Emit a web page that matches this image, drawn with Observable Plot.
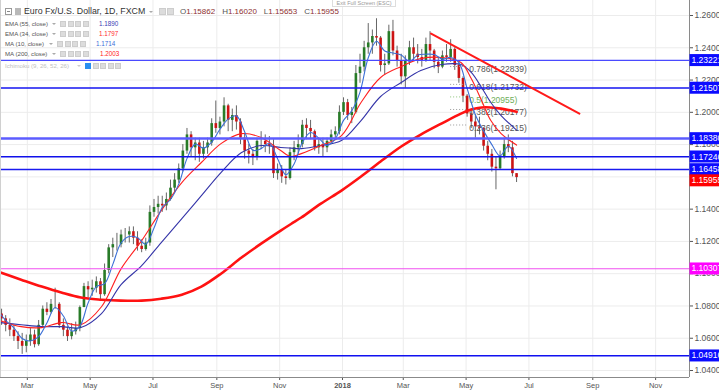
<!DOCTYPE html>
<html>
<head>
<meta charset="utf-8">
<script src="https://cdn.jsdelivr.net/npm/d3@7"></script>
<script src="https://cdn.jsdelivr.net/npm/@observablehq/plot@0.6"></script>
<style>
html,body{margin:0;padding:0;background:#fff;overflow:hidden;}
#wrap{position:relative;width:719px;height:392px;overflow:hidden;}
#legend{position:absolute;left:0;top:0;width:719px;height:80px;font-family:"Liberation Sans",Arial,sans-serif;pointer-events:none;}
.t{position:absolute;white-space:nowrap;line-height:1;}
.ic{position:absolute;width:6px;height:6px;background:#dcdcdc;box-sizing:border-box;border:1px solid #cdcdcd;}
.car{position:absolute;width:0;height:0;border-left:2px solid transparent;border-right:2px solid transparent;border-top:2.5px solid #aaa;}
</style>
</head>
<body>
<div id="wrap">
<div id="chart"></div>
<div id="legend"></div>
</div>
<script>
// ---------------- DATA ----------------
const dates = [
"2017-02-04","2017-02-08","2017-02-12","2017-02-16","2017-02-20","2017-02-24","2017-02-28",
"2017-03-04","2017-03-08","2017-03-12","2017-03-16","2017-03-20","2017-03-24","2017-03-28",
"2017-04-01","2017-04-05","2017-04-09","2017-04-13","2017-04-17","2017-04-21","2017-04-25","2017-04-29",
"2017-05-03","2017-05-07","2017-05-11","2017-05-15","2017-05-19","2017-05-23","2017-05-27","2017-05-31",
"2017-06-04","2017-06-08","2017-06-12","2017-06-16","2017-06-20","2017-06-24","2017-06-28",
"2017-07-02","2017-07-06","2017-07-10","2017-07-14","2017-07-18","2017-07-22","2017-07-26","2017-07-30",
"2017-08-03","2017-08-07","2017-08-11","2017-08-15","2017-08-19","2017-08-23","2017-08-27","2017-08-31",
"2017-09-04","2017-09-08","2017-09-12","2017-09-16","2017-09-20","2017-09-24","2017-09-28",
"2017-10-02","2017-10-06","2017-10-10","2017-10-14","2017-10-18","2017-10-22","2017-10-26","2017-10-30",
"2017-11-03","2017-11-07","2017-11-11","2017-11-15","2017-11-19","2017-11-23","2017-11-27",
"2017-12-01","2017-12-05","2017-12-09","2017-12-13","2017-12-17","2017-12-21","2017-12-25","2017-12-29",
"2018-01-02","2018-01-06","2018-01-10","2018-01-14","2018-01-18","2018-01-22","2018-01-26","2018-01-30",
"2018-02-03","2018-02-07","2018-02-11","2018-02-15","2018-02-19","2018-02-23","2018-02-27",
"2018-03-03","2018-03-07","2018-03-11","2018-03-15","2018-03-19","2018-03-23","2018-03-27","2018-03-31",
"2018-04-04","2018-04-08","2018-04-12","2018-04-16","2018-04-20","2018-04-24","2018-04-28",
"2018-05-02","2018-05-06","2018-05-10","2018-05-14","2018-05-18","2018-05-22","2018-05-26","2018-05-30",
"2018-06-03","2018-06-07","2018-06-11","2018-06-15","2018-06-19"];
const firstOpen = 1.075;
const highs = [
1.078,1.074,1.072,1.068,1.064,1.063,1.062,
1.066,1.065,1.071,1.080,1.082,1.084,1.091,
1.082,1.072,1.067,1.069,1.070,1.080,1.094,1.095,
1.096,1.098,1.097,1.106,1.118,1.122,1.125,1.127,
1.128,1.129,1.129,1.126,1.121,1.122,1.142,
1.146,1.148,1.148,1.150,1.158,1.162,1.168,1.180,
1.190,1.188,1.184,1.184,1.182,1.184,1.196,1.207,
1.197,1.209,1.205,1.202,1.204,1.196,1.187,
1.180,1.177,1.184,1.188,1.186,1.185,1.183,1.168,
1.167,1.164,1.178,1.182,1.186,1.195,1.196,
1.195,1.189,1.184,1.184,1.184,1.189,1.191,1.204,
1.209,1.208,1.203,1.229,1.236,1.244,1.255,1.251,
1.258,1.247,1.236,1.254,1.257,1.241,1.236,
1.235,1.244,1.246,1.242,1.239,1.246,1.250,1.239,
1.234,1.238,1.242,1.245,1.240,1.232,1.222,
1.211,1.202,1.198,1.197,1.190,1.182,1.177,1.172,
1.176,1.184,1.186,1.182,1.1602];
const lows = [
1.068,1.064,1.061,1.058,1.053,1.050,1.051,
1.055,1.054,1.055,1.066,1.074,1.075,1.078,
1.066,1.061,1.058,1.059,1.062,1.064,1.079,1.085,
1.086,1.088,1.084,1.086,1.100,1.110,1.114,1.116,
1.119,1.119,1.118,1.114,1.113,1.114,1.117,
1.135,1.137,1.138,1.139,1.145,1.150,1.156,1.163,
1.174,1.172,1.170,1.169,1.171,1.174,1.179,1.187,
1.186,1.191,1.188,1.188,1.189,1.180,1.171,
1.168,1.167,1.170,1.177,1.175,1.174,1.159,1.158,
1.156,1.155,1.158,1.170,1.174,1.178,1.183,
1.183,1.176,1.174,1.172,1.175,1.180,1.183,1.186,
1.198,1.195,1.193,1.199,1.218,1.225,1.236,1.236,
1.241,1.225,1.223,1.229,1.235,1.228,1.217,
1.215,1.229,1.232,1.230,1.228,1.231,1.232,1.227,
1.224,1.227,1.231,1.231,1.226,1.218,1.206,
1.197,1.190,1.184,1.186,1.176,1.170,1.163,1.152,
1.164,1.171,1.175,1.160,1.1565];
const closes = [
1.072,1.068,1.065,1.061,1.058,1.055,1.058,
1.062,1.056,1.068,1.078,1.076,1.081,1.081,
1.068,1.065,1.061,1.064,1.066,1.079,1.092,1.090,
1.091,1.095,1.087,1.102,1.116,1.118,1.118,1.124,
1.124,1.126,1.122,1.117,1.115,1.119,1.138,
1.141,1.143,1.142,1.146,1.153,1.158,1.165,1.176,
1.186,1.178,1.181,1.174,1.178,1.181,1.193,1.190,
1.194,1.204,1.195,1.198,1.194,1.184,1.176,
1.174,1.172,1.182,1.182,1.180,1.179,1.162,1.164,
1.160,1.159,1.175,1.178,1.180,1.192,1.190,
1.188,1.178,1.180,1.178,1.182,1.186,1.188,1.200,
1.206,1.198,1.200,1.224,1.228,1.240,1.243,1.247,
1.246,1.229,1.230,1.250,1.238,1.232,1.222,
1.232,1.240,1.236,1.234,1.232,1.242,1.238,1.231,
1.228,1.235,1.234,1.239,1.229,1.221,1.210,
1.199,1.194,1.191,1.190,1.179,1.174,1.166,1.165,
1.172,1.180,1.178,1.162,1.15955];

// indicator lines
const lineDates = ["2017-02-03","2017-02-23","2017-03-15","2017-04-03","2017-04-22","2017-05-12","2017-05-31","2017-06-20","2017-07-09","2017-07-29","2017-08-17","2017-09-05","2017-09-25","2017-10-14","2017-11-02","2017-11-12","2017-11-22","2017-12-11","2017-12-31","2018-01-19","2018-02-07","2018-02-27","2018-03-18","2018-04-07","2018-04-26","2018-05-06","2018-05-16","2018-05-25","2018-06-04","2018-06-19"];
const ma200 = [1.1007,1.0963,1.0920,1.0883,1.0852,1.0839,1.0833,1.0833,1.0845,1.0870,1.0920,1.1000,1.1100,1.1186,1.1267,1.1308,1.1348,1.1434,1.1515,1.1602,1.1695,1.1788,1.1862,1.1930,1.1992,1.2017,1.2030,1.2030,1.2023,1.2003];
const ema34 = [1.0709,1.0672,1.0666,1.0697,1.0684,1.0795,1.1030,1.1205,1.1391,1.1565,1.1689,1.1806,1.1868,1.1844,1.1763,1.1726,1.1744,1.1794,1.1856,1.2061,1.2216,1.2284,1.2333,1.2340,1.2309,1.2209,1.2073,1.1949,1.1868,1.1797];
const ema55 = [1.0697,1.0684,1.0672,1.0672,1.0666,1.0752,1.0932,1.1050,1.1193,1.1341,1.1484,1.1627,1.1751,1.1794,1.1782,1.1778,1.1775,1.1794,1.1825,1.1949,1.2098,1.2185,1.2259,1.2296,1.2296,1.2247,1.2154,1.2061,1.1980,1.1890];
const ma10Dates = ["2017-02-03","2017-02-08","2017-02-16","2017-02-24","2017-03-04","2017-03-12","2017-03-20","2017-03-28","2017-04-05","2017-04-13","2017-04-21","2017-04-29","2017-05-07","2017-05-15","2017-05-23","2017-05-31","2017-06-08","2017-06-16","2017-06-24","2017-07-02","2017-07-10","2017-07-18","2017-07-26","2017-08-03","2017-08-11","2017-08-19","2017-08-27","2017-09-04","2017-09-12","2017-09-20","2017-09-28","2017-10-06","2017-10-14","2017-10-22","2017-10-30","2017-11-07","2017-11-15","2017-11-23","2017-12-01","2017-12-09","2017-12-17","2017-12-25","2018-01-02","2018-01-10","2018-01-18","2018-01-26","2018-02-03","2018-02-11","2018-02-19","2018-02-27","2018-03-07","2018-03-15","2018-03-23","2018-03-31","2018-04-08","2018-04-16","2018-04-24","2018-05-02","2018-05-10","2018-05-18","2018-05-26","2018-06-03","2018-06-11","2018-06-19"];
const ma10 = [1.075,1.071,1.0665,1.0598,1.0583,1.061,1.0695,1.079,1.0738,1.0645,1.0675,1.0818,1.092,1.0938,1.1058,1.119,1.123,1.1223,1.1183,1.1283,1.141,1.146,1.1555,1.1713,1.1803,1.1778,1.1815,1.1895,1.1958,1.1978,1.188,1.1765,1.1775,1.1808,1.1713,1.1613,1.168,1.1813,1.1875,1.184,1.1795,1.1835,1.195,1.201,1.2125,1.2338,1.244,1.238,1.2368,1.2355,1.2315,1.2355,1.236,1.2358,1.233,1.234,1.2308,1.2148,1.1985,1.1885,1.180,1.173,1.179,1.1714];

// drawings
const levels = [1.23221, 1.21507, 1.18380, 1.17246, 1.16458, 1.04916];
const magentaLevel = [1.10307];
const priceLabels = ["1.23221","1.21507","1.18380","1.17246","1.16458","1.10307","1.04916"];
const lastPrice = "1.15955";
const trendDates = ["2018-03-28","2018-08-19"];
const trendPrices = [1.2488, 1.1992];
const fibRatios = ["0.786","0.618","0.5","0.382","0.236"];
const fibPrices = [1.22839, 1.21732, 1.20955, 1.20177, 1.19215];
const fibStart = "2018-04-16", fibEnd = "2018-05-03";

// axes
const yTicks = [1.04,1.06,1.08,1.10,1.12,1.14,1.16,1.18,1.20,1.22,1.24,1.26];
const xTickDates = ["2017-03-01","2017-05-01","2017-07-01","2017-09-01","2017-11-01","2018-01-01","2018-03-01","2018-05-01","2018-07-01","2018-09-01","2018-11-01"];
const xTickLabels = ["Mar","May","Jul","Sep","Nov","2018","Mar","May","Jul","Sep","Nov"];
const xDomain = ["2017-02-02T23:00:00Z","2018-12-03T21:40:00Z"];
const yDomain = [1.03567, 1.2693];

// legend text
const title = "Euro Fx/U.S. Dollar, 1D, FXCM";
const ohlcKeys = ["O","H","L","C"];
const ohlcVals = ["1.15862","1.16020","1.15653","1.15955"];
const studyNames = ["EMA (55, close)","EMA (34, close)","MA (10, close)","MA (200, close)","Ichimoku (9, 26, 52, 26)"];
const studyVals = ["1.1890","1.1797","1.1714","1.2003",""];

// ---------------- BUILD ----------------
const P = s => new Date(s);
const candles = dates.map((d, i) => {
  const o = i === 0 ? firstOpen : closes[i - 1];
  const c = closes[i];
  return {date: P(d), open: o, close: c, high: Math.max(highs[i], o, c), low: Math.min(lows[i], o, c)};
});
const lineRows = (ds, vs) => ds.map((d, i) => ({date: P(d), v: vs[i]}));
const fibRows = fibPrices.map((p, i) => ({p, r: fibRatios[i], x1: P(fibStart), x2: P(fibEnd), label: `${fibRatios[i]}(${p.toFixed(5)})`}));
const labelMap = new Map(xTickDates.map((d, i) => [+P(d), xTickLabels[i]]));

const UP = "#287b28", DOWN = "#cc1414";
const levelStroke = ["#4a4aff","#1414f0","#5c5cff","#1010ea","#1a1af0","#1010f0"];
const levelWidth = [1.3, 1.6, 2.6, 1.6, 1.6, 1.7];
const labelColors = ["#0b0bff","#0b0bff","#0b0bff","#0b0bff","#0b0bff","#ff00ff","#0b0bff"];
const labelValues = priceLabels.map(Number);

const chart = Plot.plot({
  width: 719, height: 392,
  marginLeft: 0, marginRight: 30, marginTop: 0, marginBottom: 15,
  style: {fontFamily: "Liberation Sans, Arial, sans-serif", fontSize: "8.5px", color: "#555", background: "#fff"},
  color: {type: "identity"},
  x: {type: "utc", domain: xDomain.map(P), ticks: xTickDates.map(P), tickFormat: d => labelMap.get(+d) ?? "", tickSize: 3, tickPadding: 2, label: null},
  y: {domain: yDomain, axis: "right", ticks: yTicks, tickFormat: d3.format(".5f"), tickSize: 3, tickPadding: 2, label: null},
  marks: [
    Plot.ruleY(yTicks, {stroke: "#ececec"}),
    Plot.ruleX(xTickDates.map(P), {stroke: "#ececec"}),
    Plot.ruleX(candles, {x: "date", y1: "low", y2: "high", stroke: "#666", strokeWidth: 1}),
    Plot.ruleX(candles, {x: "date", y1: "open", y2: "close", stroke: d => d.close >= d.open ? UP : DOWN, strokeWidth: 2.6}),
    Plot.ruleY(fibRows, {y: "p", x1: "x1", x2: "x2", stroke: d => d.r === "0.5" ? "#8cc47a" : "#9a9a9a", strokeDasharray: "1,2"}),
    Plot.text(fibRows, {x: "x2", y: "p", text: "label", textAnchor: "start", dx: 1, dy: 3, fontSize: 8.5, fill: d => d.r === "0.5" ? "#6fae5a" : "#555"}),
    Plot.line(lineRows(lineDates, ma200), {x: "date", y: "v", stroke: "#ff1212", strokeWidth: 2.6, curve: "catmull-rom"}),
    Plot.line(lineRows(lineDates, ema55), {x: "date", y: "v", stroke: "#3434a8", strokeWidth: 1.1, curve: "catmull-rom"}),
    Plot.line(lineRows(lineDates, ema34), {x: "date", y: "v", stroke: "#ff2020", strokeWidth: 1.1, curve: "catmull-rom"}),
    Plot.line(lineRows(ma10Dates, ma10), {x: "date", y: "v", stroke: "#3b6fd6", strokeWidth: 1.1, curve: "catmull-rom"}),
    ...levels.map((v, i) => Plot.ruleY([v], {stroke: levelStroke[i], strokeWidth: levelWidth[i]})),
    Plot.ruleY(magentaLevel, {stroke: "#f050f0", strokeWidth: 1.2}),
    Plot.line(trendDates.map((d, i) => ({date: P(d), v: trendPrices[i]})), {x: "date", y: "v", stroke: "#ff1a1a", strokeWidth: 2}),
    Plot.ruleY([yDomain[0]], {stroke: "#8a8a8a"}),
    Plot.ruleX([P(xDomain[1])], {stroke: "#8a8a8a"}),
    Plot.ruleX([P(xDomain[0])], {stroke: "#d0d0d0"}),
    Plot.text(labelValues, {y: d => d, text: (d, i) => priceLabels[i], frameAnchor: "right", textAnchor: "start", dx: 2, fill: "white", fontSize: 8.5}),
    Plot.text([Number(lastPrice)], {y: d => d, text: [lastPrice], frameAnchor: "right", textAnchor: "start", dx: 2, dy: 3, fill: "#fffffe", fontSize: 8.5})
  ]
});
document.getElementById("chart").appendChild(chart);

// post styling
d3.select(chart).selectAll("text").each(function() {
  const s = this.textContent;
  if (xTickLabels.includes(s)) {
    this.style.fontSize = "7.5px";
    if (s === "2018") this.style.fontWeight = "bold";
  }
});
function boxes(sel, colors) {
  const g = chart.querySelector(sel);
  if (!g) return;
  Array.from(g.querySelectorAll("text")).forEach((t, i) => {
    const b = t.getBBox();
    const r = document.createElementNS("http://www.w3.org/2000/svg", "rect");
    r.setAttribute("x", b.x - 2);
    r.setAttribute("y", b.y + b.height / 2 - 6);
    r.setAttribute("width", 40);
    r.setAttribute("height", 12);
    r.setAttribute("fill", colors[i]);
    if (t.getAttribute("transform")) r.setAttribute("transform", t.getAttribute("transform"));
    g.insertBefore(r, t);
  });
}
boxes('g[fill="white"]', labelColors);
boxes('g[fill="#fffffe"]', ["#ff0000"]);

// legend overlay
const L = document.getElementById("legend");
const add = h => L.insertAdjacentHTML("beforeend", h);
add(`<div style="position:absolute;left:332px;top:-3px;width:64px;height:10px;box-sizing:border-box;border:1px solid #ddd;background:#fff;font-size:5.5px;color:#999;text-align:center;line-height:11px">Exit Full Screen (ESC)</div>`);
add(`<div style="position:absolute;left:5px;top:8px;width:7px;height:7px;box-sizing:border-box;border:1px solid #999;background:#fff"><div style="position:absolute;left:1px;top:2px;width:3px;height:1px;background:#888"></div></div>`);
add(`<div style="position:absolute;left:15px;top:8px;width:6px;height:7px;background:#b8b8b8"></div>`);
add(`<span class="t" style="left:24px;top:7px;font-size:8.8px;color:#333">${title}</span>`);
add(`<div class="car" style="left:149px;top:11px"></div>`);
add(`<div class="ic" style="left:159px;top:8px;width:7px;height:7px"></div><div class="ic" style="left:167px;top:8px;width:7px;height:7px"></div>`);
let oh = "";
ohlcKeys.forEach((k, i) => { oh += `<span style="color:#555">${k}</span><span style="color:#8e3030">${ohlcVals[i]}</span>` + (i < 3 ? `<span style="display:inline-block;width:7px"></span>` : ""); });
add(`<span class="t" style="left:180px;top:8px;font-size:8px">${oh}</span>`);
const rowY = [21, 31, 41, 51, 63];
const iconX = [60, 60, 57, 60, 85];
const valX = [99, 99, 96, 100, 0];
const valColor = ["#3a3ab4","#ff2a2a","#3d6ed8","#ff2020",""];
studyNames.forEach((n, i) => {
  const grey = i === 4;
  add(`<span class="t" style="left:5px;top:${rowY[i]}px;font-size:6.1px;color:${grey ? "#c0c0c0" : "#555"}">${n}</span>`);
  add(`<div class="car" style="left:${iconX[i] - 8}px;top:${rowY[i] + 2}px;border-top-color:${grey ? "#ccc" : "#aaa"}"></div>`);
  for (let k = 0; k < (grey ? 5 : 4); k++) {
    const bg = grey && k === 0 ? "background:#2a8ff0;border-color:#2a8ff0;" : "";
    add(`<div class="ic" style="left:${iconX[i] + k * 7.5}px;top:${rowY[i]}px;${bg}"></div>`);
  }
  if (studyVals[i]) add(`<span class="t" style="left:${valX[i]}px;top:${rowY[i]}px;font-size:6.3px;color:${valColor[i]}">${studyVals[i]}</span>`);
});
</script>
</body>
</html>
